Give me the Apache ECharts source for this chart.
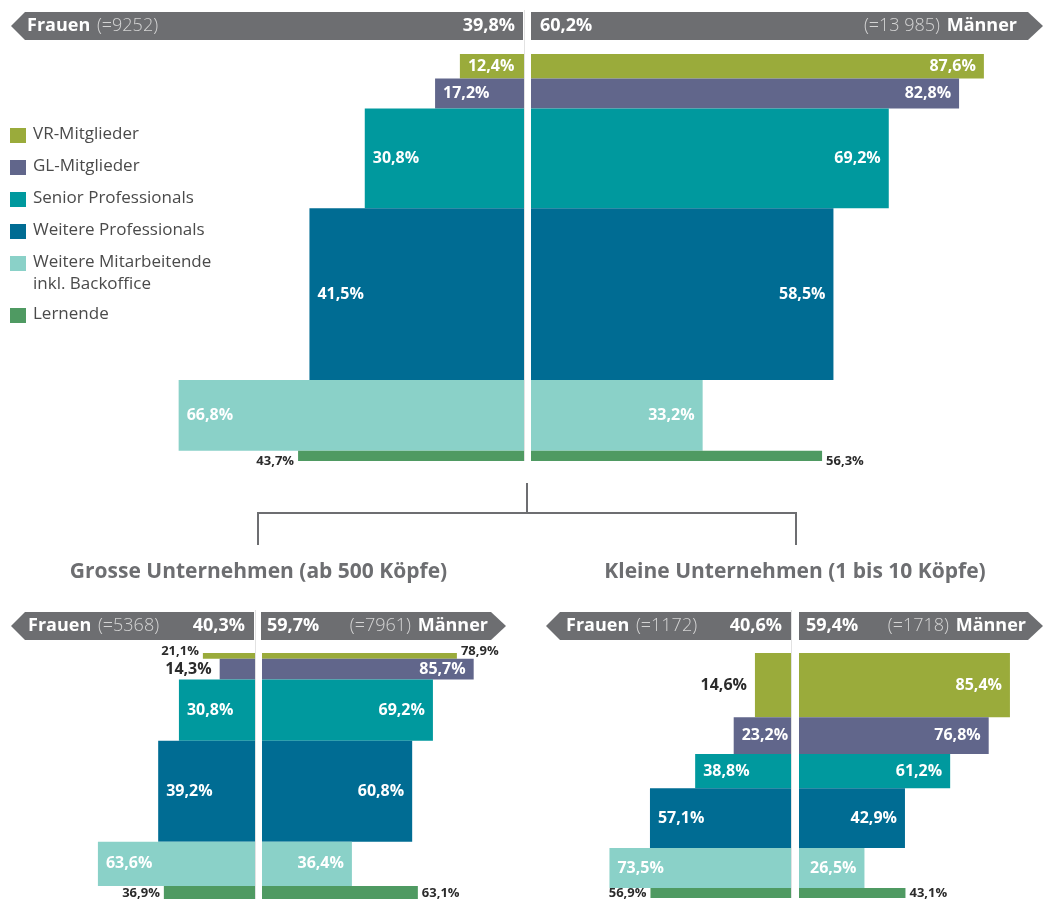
<!DOCTYPE html>
<html>
<head>
<meta charset="utf-8">
<script src="https://cdn.jsdelivr.net/npm/echarts@6.0.0/dist/echarts.min.js"></script>
<style>
  html, body { margin: 0; padding: 0; background: #fff; }
  #chart { width: 1047px; height: 901px; }
</style>
</head>
<body>
<div id="chart"></div>
<script>
// Kategorien von oben nach unten
const categories = ['VR-Mitglieder', 'GL-Mitglieder', 'Senior Professionals', 'Weitere Professionals', 'Weitere Mitarbeitende\ninkl. Backoffice', 'Lernende']
const colors = ['#9aab3b', '#61668b', '#00999e', '#006c93', '#8ad1c8', '#4f9a62']

// Gesamt: Anteil am Personalbestand (Balkenhöhe), Frauen- und Männeranteil je Kategorie
const totalShare = [6.0, 7.4, 24.5, 42.2, 17.4, 2.5]
const totalWomen = [12.4, 17.2, 30.8, 41.5, 66.8, 43.7]
const totalMen = [87.6, 82.8, 69.2, 58.5, 33.2, 56.3]

// Grosse Unternehmen
const largeShare = [2.3, 8.5, 24.8, 41.1, 17.9, 5.3]
const largeWomen = [21.1, 14.3, 30.8, 39.2, 63.6, 36.9]
const largeMen = [78.9, 85.7, 69.2, 60.8, 36.4, 63.1]

// Kleine Unternehmen
const smallShare = [26.2, 15.0, 14.0, 24.4, 16.3, 4.1]
const smallWomen = [14.6, 23.2, 38.8, 57.1, 73.5, 56.9]
const smallMen = [85.4, 76.8, 61.2, 42.9, 26.5, 43.1]

const panelTitles = ['', 'Grosse Unternehmen (ab 500 Köpfe)', 'Kleine Unternehmen (1 bis 10 Köpfe)']
const womenPct = [39.8, 40.3, 40.6]
const menPct = [60.2, 59.7, 59.4]
const womenCount = ['9252', '5368', '1172']
const menCount = ['13 985', '7961', '1718']

const FONT = '"Open Sans", "Noto Sans", sans-serif'
const GREY = '#6d6e71'

// label modes per panel: [left side, right side]; 'in' = inside white, 'out' = outside dark, 'small' = outside small
const labelModes = [
  [['in', 'in', 'in', 'in', 'in', 'small'], ['in', 'in', 'in', 'in', 'in', 'small']],
  [['small', 'out', 'in', 'in', 'in', 'small'], ['small', 'in', 'in', 'in', 'in', 'small']],
  [['out', 'in', 'in', 'in', 'in', 'small'], ['in', 'in', 'in', 'in', 'in', 'small']]
]
const labelShift = [
  [0, 0, 0, 0, 0, 5],
  [-5, 0, 0, 0, 0, 1],
  [0, 0, 0, 0, 0, 0]
]

const panels = [
  { share: totalShare, women: totalWomen, men: totalMen, leftX: 7, rightX: 531, width: 517, top: 54, height: 407,
    hdrY: 12, lTip: 11, lEnd: 523, rStart: 531, rTip: 1043, nameL: 27, pctL: 515, pctR: 540, nameR: 1017 },
  { share: largeShare, women: largeWomen, men: largeMen, leftX: 8, rightX: 262, width: 247, top: 653, height: 246,
    hdrY: 612, lTip: 11, lEnd: 254, rStart: 261, rTip: 506, nameL: 28, pctL: 245, pctR: 267, nameR: 488 },
  { share: smallShare, women: smallWomen, men: smallMen, leftX: 544, rightX: 799, width: 247, top: 653, height: 245,
    hdrY: 612, lTip: 546, lEnd: 791, rStart: 799, rTip: 1043, nameL: 566, pctL: 782, pctR: 806, nameR: 1026 }
]

function fmt(v) {
  return v.toFixed(1).replace('.', ',') + '%'
}

function makeRender(p, side) {
  return function (params, api) {
    const i = api.value(3)
    const pct = api.value(2)
    const a = api.coord([0, api.value(0)])
    const b = api.coord([pct, api.value(1)])
    const x0 = Math.min(a[0], b[0])
    const x1 = Math.max(a[0], b[0])
    const y0 = a[1]
    const y1 = b[1]
    const mode = labelModes[p][side][i]
    let tx, align, fill = '#fff', size = 16, dy = 0
    if (mode === 'in') {
      tx = side === 0 ? x0 + 8 : x1 - 8
      align = side === 0 ? 'left' : 'right'
    } else {
      fill = '#2b2b2b'
      size = mode === 'small' ? 13 : 16
      const gap = mode === 'small' ? 4 : 8
      tx = side === 0 ? x0 - gap : x1 + gap
      align = side === 0 ? 'right' : 'left'
      dy = labelShift[p][i]
    }
    return {
      type: 'group',
      children: [
        { type: 'rect', shape: { x: x0, y: y0, width: x1 - x0, height: y1 - y0 }, style: { fill: colors[i] } },
        { type: 'text', style: { text: fmt(pct), x: tx, y: (y0 + y1) / 2 + dy, fill, fontSize: size, fontWeight: 'bold', fontFamily: FONT, align, verticalAlign: 'middle' } }
      ]
    }
  }
}

const grid = []
const xAxis = []
const yAxis = []
const series = []
const graphic = []

panels.forEach((pn, p) => {
  const total = pn.share.reduce((s, v) => s + v, 0)
  ;[0, 1].forEach(side => {
    const g = grid.length
    grid.push({ left: side === 0 ? pn.leftX : pn.rightX, top: pn.top, width: pn.width, height: pn.height, outerBoundsMode: 'none' })
    xAxis.push({ gridIndex: g, type: 'value', min: 0, max: 100, inverse: side === 0, show: false })
    yAxis.push({ gridIndex: g, type: 'value', min: 0, max: total, inverse: true, show: false })
    const vals = side === 0 ? pn.women : pn.men
    let cum = 0
    const data = pn.share.map((h, i) => {
      const item = [cum, cum + h, vals[i], i]
      cum += h
      return item
    })
    series.push({
      type: 'custom',
      xAxisIndex: g,
      yAxisIndex: g,
      data,
      silent: true,
      renderItem: makeRender(p, side)
    })
  })

  // Kopfzeile mit Pfeilen
  const y = pn.hdrY, h = 28, m = y + h / 2
  graphic.push({
    type: 'polygon',
    shape: { points: [[pn.lTip, m], [pn.lTip + 14, y], [pn.lEnd, y], [pn.lEnd, y + h], [pn.lTip + 14, y + h]] },
    style: { fill: GREY }
  })
  graphic.push({
    type: 'polygon',
    shape: { points: [[pn.rStart, y], [pn.rTip - 15, y], [pn.rTip, m], [pn.rTip - 15, y + h], [pn.rStart, y + h]] },
    style: { fill: GREY }
  })
  const rich = {
    b: { fontFamily: FONT, fontSize: 18, fontWeight: 'bold', fill: '#fff' },
    l: { fontFamily: FONT, fontSize: 18, fontWeight: 300, fill: '#d4d4d4' }
  }
  graphic.push({ type: 'text', style: { text: '{b|Frauen}  {l|(=' + womenCount[p] + ')}', rich, x: pn.nameL, y: m, verticalAlign: 'middle', align: 'left' } })
  graphic.push({ type: 'text', style: { text: fmt(womenPct[p]), x: pn.pctL, y: m, fill: '#fff', fontFamily: FONT, fontSize: 18, fontWeight: 'bold', align: 'right', verticalAlign: 'middle' } })
  graphic.push({ type: 'text', style: { text: fmt(menPct[p]), x: pn.pctR, y: m, fill: '#fff', fontFamily: FONT, fontSize: 18, fontWeight: 'bold', align: 'left', verticalAlign: 'middle' } })
  graphic.push({ type: 'text', style: { text: '{l|(=' + menCount[p] + ')}  {b|Männer}', rich, x: pn.nameR, y: m, verticalAlign: 'middle', align: 'right' } })

  // feine Trennlinie in der Mitte
  const lx = pn.leftX + pn.width + 0.5
  graphic.push({ type: 'line', shape: { x1: lx, y1: y - 2, x2: lx, y2: pn.top + pn.height }, style: { stroke: '#e2e2e2', lineWidth: 1 }, z: 10 })

  if (panelTitles[p]) {
    graphic.push({ type: 'text', style: { text: panelTitles[p], x: (pn.leftX + pn.width + pn.rightX) / 2, y: 572, fill: GREY, fontFamily: FONT, fontSize: 21, fontWeight: 'bold', align: 'center', verticalAlign: 'middle' } })
  }
})

// Verbindungslinien
graphic.push({ type: 'polyline', shape: { points: [[527, 483], [527, 513]] }, style: { stroke: GREY, lineWidth: 2, fill: null } })
graphic.push({ type: 'polyline', shape: { points: [[258, 545], [258, 513], [796, 513], [796, 545]] }, style: { stroke: GREY, lineWidth: 2, fill: null } })

// Legende
categories.forEach((name, i) => {
  const yc = 135 + 32 * i + (i > 4 ? 20 : 0)
  graphic.push({ type: 'rect', shape: { x: 10, y: yc - 7, width: 16, height: 15 }, style: { fill: colors[i] } })
  graphic.push({ type: 'text', style: { text: name, x: 33, y: yc - 12, fill: '#4a4a4a', fontFamily: FONT, fontSize: 17, lineHeight: 22, align: 'left', verticalAlign: 'top' } })
})

const chart = echarts.init(document.getElementById('chart'), null, { renderer: 'canvas' })
chart.setOption({
  animation: false,
  backgroundColor: '#fff',
  grid,
  xAxis,
  yAxis,
  series,
  graphic
})
</script>
</body>
</html>
